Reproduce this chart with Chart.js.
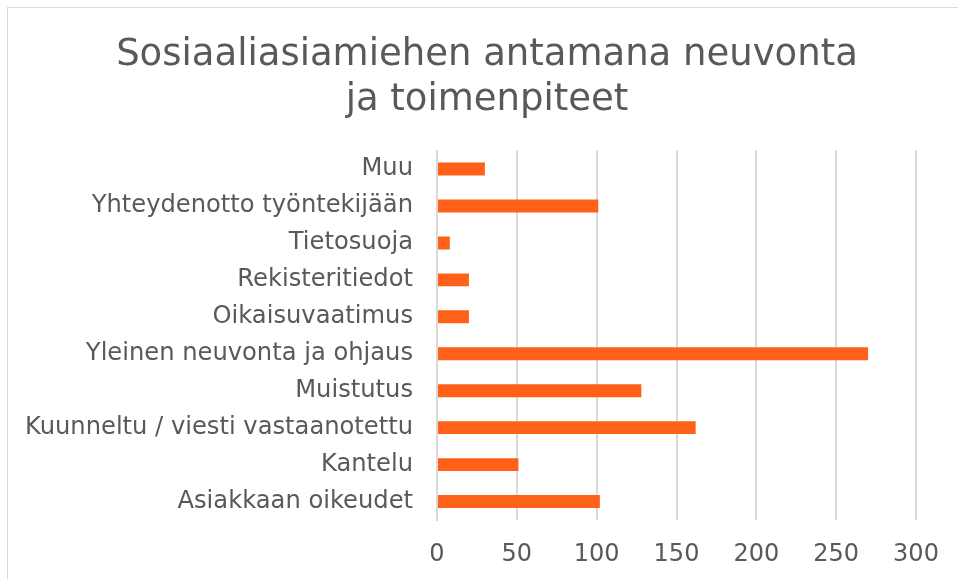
<!DOCTYPE html>
<html lang="fi">

<head>
    <meta charset="UTF-8">
    <title>Sosiaaliasiamiehen antamana neuvonta ja toimenpiteet</title>
    <script src="https://cdn.jsdelivr.net/npm/chart.js"></script>
    <style>
        html,
        body {
            margin: 0;
            padding: 0;
            background: #ffffff;
            overflow: hidden;
        }

        #chartBox {
            position: absolute;
            left: 7px;
            top: 7px;
            width: 958px;
            height: 600px;
            border: 1px solid #d9d9d9;
            background: #ffffff;
        }
    </style>
</head>

<body>
    <div id="chartBox">
        <canvas id="myChart" width="958" height="600"></canvas>
    </div>
    <script>
        // categories top to bottom as shown
        const categories = [
            'Muu',
            'Yhteydenotto työntekijään',
            'Tietosuoja',
            'Rekisteritiedot',
            'Oikaisuvaatimus',
            'Yleinen neuvonta ja ohjaus',
            'Muistutus',
            'Kuunneltu / viesti vastaanotettu',
            'Kantelu',
            'Asiakkaan oikeudet'
        ];
        const counts = [30, 101, 8, 20, 20, 270, 128, 162, 51, 102];
        const titleLines = ['Sosiaaliasiamiehen antamana neuvonta', 'ja toimenpiteet'];

        const textColor = '#595959';
        const gridColor = '#d9d9d9';
        const fontFamily = '"DejaVu Sans", Verdana, sans-serif';

        // title centred on the whole box, not on the padded layout area
        const boxTitle = {
            id: 'boxTitle',
            afterDraw(chart) {
                const c = chart.ctx;
                c.save();
                c.fillStyle = textColor;
                c.font = '37px ' + fontFamily;
                c.textAlign = 'center';
                c.textBaseline = 'alphabetic';
                titleLines.forEach((line, i) => {
                    c.fillText(line, chart.width / 2, 57 + i * 45);
                });
                c.restore();
            }
        };

        const ctx = document.getElementById('myChart').getContext('2d');
        const myChart = new Chart(ctx, {
            type: 'bar',
            data: {
                labels: categories,
                datasets: [{
                    data: counts,
                    backgroundColor: '#ff6119',
                    borderWidth: 0,
                    barPercentage: 0.35,
                    categoryPercentage: 1
                }]
            },
            plugins: [boxTitle],
            options: {
                indexAxis: 'y',
                responsive: false,
                animation: false,
                layout: {
                    padding: { left: 0, right: 50, top: 142.6, bottom: 0 }
                },
                plugins: {
                    legend: { display: false },
                    tooltip: { enabled: false },
                    title: { display: false }
                },
                scales: {
                    x: {
                        min: 0,
                        max: 300,
                        ticks: {
                            stepSize: 50,
                            color: textColor,
                            padding: 20,
                            font: { family: fontFamily, size: 24 }
                        },
                        grid: {
                            color: gridColor,
                            lineWidth: 2,
                            drawTicks: false
                        },
                        border: { display: false },
                        afterFit: (scale) => { scale.height = 88; }
                    },
                    y: {
                        ticks: {
                            color: textColor,
                            padding: 24,
                            font: { family: fontFamily, size: 24.2 }
                        },
                        grid: { display: false, drawTicks: false },
                        border: { color: gridColor, width: 2 },
                        afterFit: (scale) => { scale.width = 429; }
                    }
                }
            }
        });
    </script>
</body>

</html>
